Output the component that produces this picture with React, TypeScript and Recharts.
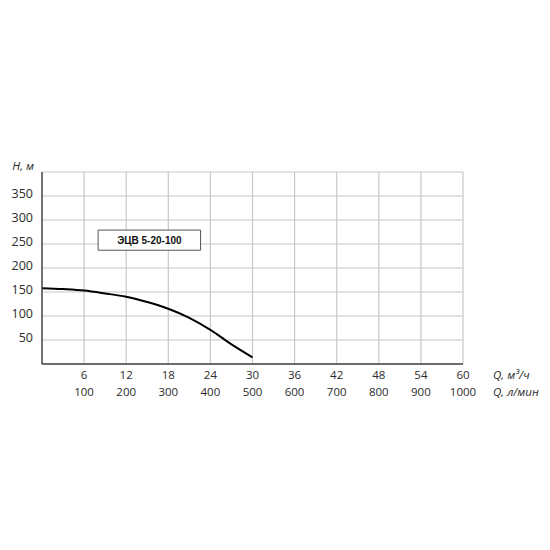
import React from 'react';
import {
  LineChart,
  Line,
  XAxis,
  YAxis,
  CartesianGrid,
  ReferenceArea,
  Customized,
} from 'recharts';

// pump curve, Q in m3/h -> H in m
const flowM3h = [0, 3, 6, 9, 12, 15, 18, 21, 24, 27, 30];
const headM = [158, 156, 153, 147, 140, 129, 115, 96, 71, 41, 14];

const xTicksM3h = [0, 6, 12, 18, 24, 30, 36, 42, 48, 54, 60];
const xTicksLmin = [0, 100, 200, 300, 400, 500, 600, 700, 800, 900, 1000];
const yTicks = [0, 50, 100, 150, 200, 250, 300, 350, 400];

const modelName = 'ЭЦВ 5-20-100';
const yAxisName = 'H, м';
const xAxisNameTop = 'Q, м³/ч';
const xAxisNameBottom = 'Q, л/мин';

const chartData = flowM3h.map((q, i) => ({ q, h: headM[i] }));

const textColor = '#2b2b2b';
const tickFont = '"Open Sans", "Noto Sans", sans-serif';

const XTick = ({ x, y, payload }: any) => {
  const idx = xTicksM3h.indexOf(payload.value);
  if (payload.value === 0 || idx < 0) return null;
  return (
    <g fill={textColor} fontSize={11.5} fontFamily={tickFont}>
      <text x={x} y={y + 15} textAnchor="middle" fill={textColor}>
        {xTicksM3h[idx]}
      </text>
      <text x={x} y={y + 32} textAnchor="middle" fill={textColor}>
        {xTicksLmin[idx]}
      </text>
    </g>
  );
};

const YTick = ({ x, y, payload }: any) => {
  if (payload.value === 0 || payload.value === 400) return null;
  return (
    <text x={x - 9} y={y + 2} textAnchor="end" fill={textColor} fontSize={12.5} fontFamily={tickFont}>
      {payload.value}
    </text>
  );
};

const AxisNames = () => (
  <g fontFamily={tickFont} fontSize={11.5} fontStyle="italic" fill={textColor}>
    <text x={34} y={170} textAnchor="end">{yAxisName}</text>
    <text x={493} y={379}>{xAxisNameTop}</text>
    <text x={493} y={396}>{xAxisNameBottom}</text>
  </g>
);

const BoxLabel = ({ viewBox }: any) => {
  const { x, y, width, height } = viewBox;
  return (
    <text
      x={x + width / 2}
      y={y + height / 2 + 4}
      textAnchor="middle"
      fontSize={10}
      fontWeight="bold"
      fontFamily='"Liberation Sans", Arial, sans-serif'
      fill="#111"
    >
      {modelName}
    </text>
  );
};

const App = () => {
  return (
    <div style={{ position: 'absolute', left: 0, top: 0, width: 550, height: 550, background: '#fff' }}>
      <LineChart
        width={550}
        height={550}
        data={chartData}
        margin={{ top: 172, right: 87, left: 0, bottom: 146 }}
      >
        <CartesianGrid stroke="#c8c8c8" strokeWidth={1.2} />
        <XAxis
          dataKey="q"
          type="number"
          domain={[0, 60]}
          ticks={xTicksM3h}
          interval={0}
          height={40}
          tickSize={0}
          tickMargin={0}
          tickLine={false}
          axisLine={{ stroke: '#444', strokeWidth: 1.4 }}
          tick={<XTick />}
        />
        <YAxis
          type="number"
          domain={[0, 400]}
          ticks={yTicks}
          interval={0}
          width={42}
          tickSize={0}
          tickMargin={0}
          tickLine={false}
          axisLine={{ stroke: '#444', strokeWidth: 1.4 }}
          tick={<YTick />}
        />
        <ReferenceArea
          x1={8}
          x2={22.6}
          y1={237}
          y2={279}
          fill="#fff"
          fillOpacity={1}
          stroke="#555"
          strokeWidth={1}
          label={<BoxLabel />}
        />
        <Line
          type="monotone"
          dataKey="h"
          stroke="#000"
          strokeWidth={2}
          dot={false}
          isAnimationActive={false}
        />
        <Customized component={AxisNames} />
      </LineChart>
    </div>
  );
};

export default App;
